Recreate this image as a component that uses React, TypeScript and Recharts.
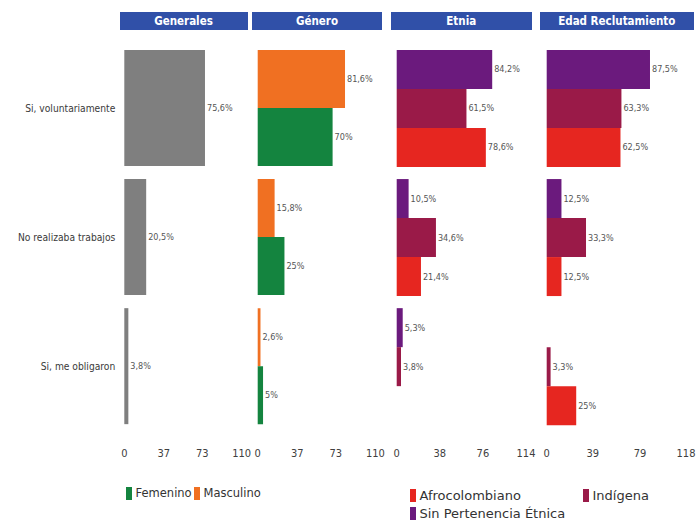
import { Bar, BarChart, LabelList, XAxis, YAxis } from "recharts";

const categories = ["Si, voluntariamente", "No realizaba trabajos", "Si, me obligaron"];

// Generales
const generales = [75.6, 20.5, 3.8];

// Género
const masculino = [81.6, 15.8, 2.6];
const femenino = [70, 25, 5];

// Etnia
const etniaSinPertenencia = [84.2, 10.5, 5.3];
const etniaIndigena = [61.5, 34.6, 3.8];
const etniaAfro = [78.6, 21.4, null];

// Edad Reclutamiento
const edadSinPertenencia = [87.5, 12.5, null];
const edadIndigena = [63.3, 33.3, 3.3];
const edadAfro = [62.5, 12.5, 25];

const ticksGenerales = [0, 37, 73, 110];
const ticksGenero = [0, 37, 73, 110];
const ticksEtnia = [0, 38, 76, 114];
const ticksEdad = [0, 39, 79, 118];

const GRAY = "#7f7f7f";
const ORANGE = "#f07022";
const GREEN = "#14843f";
const PURPLE = "#6b1a7d";
const MAROON = "#9a1a48";
const RED = "#e62620";
const HEADER = "#3050a8";

const NARROW = "'DejaVu Sans Condensed', 'Liberation Sans', Arial, sans-serif";

const generoSeries = [
  { key: "masculino", name: "Masculino", color: ORANGE, values: masculino },
  { key: "femenino", name: "Femenino", color: GREEN, values: femenino },
];

const etniaSeries = [
  { key: "sin", name: "Sin Pertenencia Étnica", color: PURPLE, values: etniaSinPertenencia },
  { key: "ind", name: "Indígena", color: MAROON, values: etniaIndigena },
  { key: "afro", name: "Afrocolombiano", color: RED, values: etniaAfro },
];

const edadSeries = [
  { key: "sin", name: "Sin Pertenencia Étnica", color: PURPLE, values: edadSinPertenencia },
  { key: "ind", name: "Indígena", color: MAROON, values: edadIndigena },
  { key: "afro", name: "Afrocolombiano", color: RED, values: edadAfro },
];

type Series = { key: string; name: string; color: string; values: (number | null)[] };

function buildRows(series: Series[]) {
  return categories.map((label, i) => {
    const row: Record<string, string | number | null> = { label };
    series.forEach((s) => (row[s.key] = s.values[i]));
    return row;
  });
}

const pct = (v: number) => `${String(v).replace(".", ",")}%`;

function ValueLabel(props: any) {
  const { x, y, width, height, value } = props;
  if (value == null || value === 0) return null;
  return (
    <text
      x={x + width + 2}
      y={y + height / 2}
      dominantBaseline="central"
      fontSize={9}
      fontFamily={NARROW}
      fill="#555"
    >
      {pct(value)}
    </text>
  );
}

// category names on one line, right-aligned against the plot
function CategoryTick(props: any) {
  const { x, y, payload } = props;
  return (
    <text
      x={x}
      y={y}
      textAnchor="end"
      dominantBaseline="central"
      fontSize={10.2}
      fontFamily={NARROW}
      fill="#3a3a3a"
    >
      {payload.value}
    </text>
  );
}

const CHART_H = 470;
const MARGIN_TOP = 43.5;
const MARGIN_BOTTOM = 9.2;

interface PanelProps {
  left: number;
  width: number;
  plotLeft: number;
  plotRight: number;
  series: Series[];
  max: number;
  ticks: number[];
  showCategories?: boolean;
}

function Panel({ left, width, plotLeft, plotRight, series, max, ticks, showCategories }: PanelProps) {
  const data = buildRows(series);
  const yWidth = showCategories ? plotLeft : 0;
  return (
    <div style={{ position: "absolute", left, top: 0 }}>
      <BarChart
        width={width}
        height={CHART_H}
        data={data}
        layout="vertical"
        barCategoryGap="5%"
        barGap={0}
        margin={{
          top: MARGIN_TOP,
          bottom: MARGIN_BOTTOM,
          left: showCategories ? 0 : plotLeft,
          right: width - plotRight,
        }}
      >
        <XAxis
          type="number"
          domain={[0, max]}
          ticks={ticks}
          interval={0}
          axisLine={false}
          tickLine={false}
          height={30}
          tickMargin={12}
          tick={{ fill: "#404040", fontSize: 11, fontFamily: NARROW }}
        />
        <YAxis
          type="category"
          dataKey="label"
          width={yWidth}
          hide={!showCategories}
          axisLine={false}
          tickLine={false}
          tickMargin={3}
          tick={CategoryTick}
        />
        {series.map((s) => (
          <Bar key={s.key} dataKey={s.key} name={s.name} fill={s.color} isAnimationActive={false}>
            <LabelList dataKey={s.key} content={ValueLabel} />
          </Bar>
        ))}
      </BarChart>
    </div>
  );
}

function Header({ left, right, text }: { left: number; right: number; text: string }) {
  return (
    <div
      style={{
        position: "absolute",
        left,
        top: 11.5,
        width: right - left,
        height: 18.5,
        background: HEADER,
        color: "#fff",
        fontFamily: "'DejaVu Sans Condensed', 'DejaVu Sans', sans-serif",
        fontWeight: "bold",
        fontSize: 11.5,
        lineHeight: "18.5px",
        textAlign: "center",
      }}
    >
      {text}
    </div>
  );
}

function LegendItem({ left, top, color, name }: { left: number; top: number; color: string; name: string }) {
  return (
    <div style={{ position: "absolute", left, top, display: "flex", alignItems: "center", whiteSpace: "nowrap" }}>
      <span style={{ display: "inline-block", width: 5.5, height: 13, background: color, marginRight: 4 }} />
      <span>{name}</span>
    </div>
  );
}

export default function App() {
  const generalSeries: Series[] = [{ key: "general", name: "Generales", color: GRAY, values: generales }];
  const fem = generoSeries[1];
  const masc = generoSeries[0];
  const [sin, ind, afro] = etniaSeries;
  return (
    <div
      style={{
        position: "absolute",
        left: 0,
        top: 0,
        width: 697,
        height: 526,
        background: "#fff",
        overflow: "hidden",
      }}
    >
      <Header left={119.5} right={247.5} text="Generales" />
      <Header left={252} right={382} text="Género" />
      <Header left={391} right={531.5} text="Etnia" />
      <Header left={539.5} right={694} text="Edad Reclutamiento" />

      <Panel left={0} width={260} plotLeft={124.3} plotRight={241.7} series={generalSeries} max={110} ticks={ticksGenerales} showCategories />
      <Panel left={250} width={140} plotLeft={7.7} plotRight={125.4} series={generoSeries} max={110} ticks={ticksGenero} />
      <Panel left={385} width={155} plotLeft={11.7} plotRight={141} series={etniaSeries} max={114} ticks={ticksEtnia} />
      <Panel left={535} width={162} plotLeft={11.7} plotRight={151} series={edadSeries} max={118} ticks={ticksEdad} />

      <div style={{ fontFamily: "'DejaVu Sans', sans-serif", fontSize: 11.5, color: "#333" }}>
        <LegendItem left={126} top={486} color={fem.color} name={fem.name} />
        <LegendItem left={194} top={486} color={masc.color} name={masc.name} />
      </div>
      <div style={{ fontFamily: "'DejaVu Sans', sans-serif", fontSize: 13, color: "#333" }}>
        <LegendItem left={410} top={488} color={afro.color} name={afro.name} />
        <LegendItem left={583} top={488} color={ind.color} name={ind.name} />
        <LegendItem left={410} top={506} color={sin.color} name={sin.name} />
      </div>
    </div>
  );
}
